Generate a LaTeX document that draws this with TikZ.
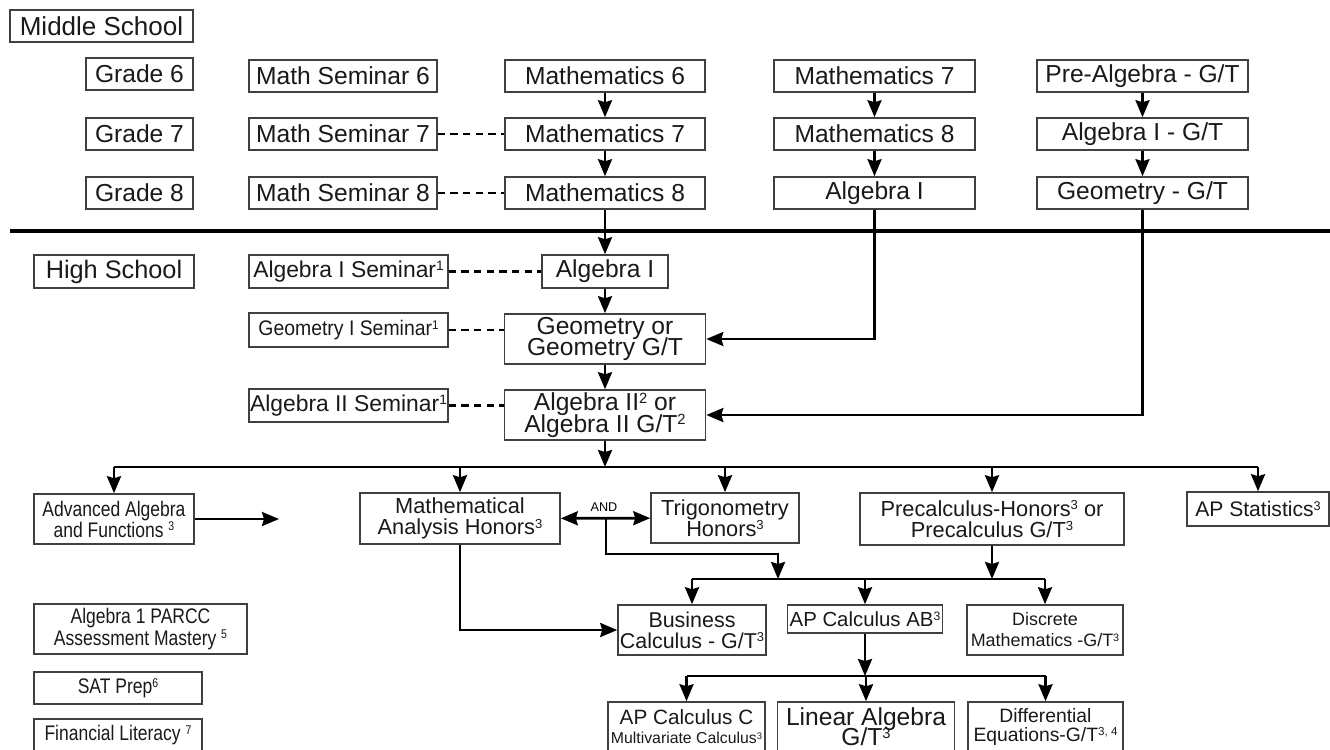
\documentclass[tikz,border=0pt]{standalone}
\usepackage{fontspec}
\setmainfont{Liberation Sans}
\newfontfamily\narrowfont[FakeStretch=0.83]{Liberation Sans}
\newfontfamily\semifont[FakeStretch=0.92]{Liberation Sans}
\usetikzlibrary{arrows.meta}
\lineskiplimit=-5pt
\newcommand\fn[1]{\raisebox{0.3em}{\scalebox{0.6}{#1}}}

\begin{document}
\begin{tikzpicture}[x=0.1mm,y=-0.1mm,
	box/.style={draw=black!75,line width=0.45pt,inner sep=0pt,align=center,text=black!90},
	upper/.style={font=\fontsize{7}{6.2}\selectfont},
	lower/.style={font=\fontsize{6.2}{6}\selectfont},
	narrow/.style={font=\narrowfont\fontsize{6}{6}\selectfont},
	flow/.style={line width=0.75pt,-{Stealth[length=1.7mm,width=1.4mm,inset=0.2mm]}},
	both/.style={line width=0.75pt,{Stealth[length=1.7mm,width=1.4mm,inset=0.2mm]}-{Stealth[length=1.7mm,width=1.4mm,inset=0.2mm]}},
	tie/.style={line width=0.75pt},
	semlink/.style={line width=0.6pt,dash pattern=on 2.1pt off 1.5pt}]
	\useasboundingbox (0,0) rectangle (1330,749);

	%middle school
	\node[box,minimum width=18.3mm,minimum height=3.2mm,font=\fontsize{7.4}{8}\selectfont] (ms) at (101.5,26) {Middle School};
	\node[box,upper,minimum width=10.7mm,minimum height=3.2mm] (g6) at (139.5,74) {Grade 6};
	\node[box,upper,minimum width=10.7mm,minimum height=3.2mm] (g7) at (139.5,134) {Grade 7};
	\node[box,upper,minimum width=10.7mm,minimum height=3.2mm] (g8) at (139.5,193) {Grade 8};
	\node[box,upper,minimum width=18.8mm,minimum height=3.2mm] (sem6) at (343,76) {Math Seminar 6};
	\node[box,upper,minimum width=18.8mm,minimum height=3.2mm] (sem7) at (343,134) {Math Seminar 7};
	\node[box,upper,minimum width=18.8mm,minimum height=3.2mm] (sem8) at (343,193) {Math Seminar 8};
	\node[box,upper,minimum width=20mm,minimum height=3.2mm] (m6) at (605,76) {Mathematics 6};
	\node[box,upper,minimum width=20mm,minimum height=3.2mm] (m7a) at (605,134) {Mathematics 7};
	\node[box,upper,minimum width=20mm,minimum height=3.2mm] (m8a) at (605,193) {Mathematics 8};
	\node[box,upper,minimum width=20.1mm,minimum height=3.2mm] (m7b) at (874.5,76) {Mathematics 7};
	\node[box,upper,minimum width=20.1mm,minimum height=3.2mm] (m8b) at (874.5,134) {Mathematics 8};
	\node[box,upper,minimum width=20.1mm,minimum height=3.2mm] (alg1b) at (874.5,193) {Algebra I};
	\node[box,upper,minimum width=21.1mm,minimum height=3.2mm] (pa) at (1142.5,76) {Pre-Algebra - G/T};
	\node[box,upper,minimum width=21.1mm,minimum height=3.2mm] (alggt) at (1142.5,134) {Algebra I - G/T};
	\node[box,upper,minimum width=21.1mm,minimum height=3.2mm] (geogt) at (1142.5,193) {Geometry - G/T};

	\draw[flow] (m6) -- (m7a);
	\draw[flow] (m7a) -- (m8a);
	\draw[flow] (m7b) -- (m8b);
	\draw[flow] (m8b) -- (alg1b);
	\draw[flow] (pa) -- (alggt);
	\draw[flow] (alggt) -- (geogt);
	\draw[semlink] (sem7) -- (m7a); %seminar 7
	\draw[semlink] (sem8) -- (m8a); %seminar 8

	\draw[line width=1.2pt] (10,231) -- (1330,231); %separator

	%high school
	\node[box,font=\fontsize{7.2}{8}\selectfont,minimum width=16mm,minimum height=3.3mm] (hs) at (114,271.5) {High School};
	\node[box,font=\fontsize{6.5}{6}\selectfont,minimum width=19.9mm,minimum height=3.3mm] (sem1) at (348.5,271.5) {Algebra I Seminar\fn{1}};
	\node[box,upper,minimum width=12.6mm,minimum height=3.3mm] (alg1) at (605,271.5) {Algebra I};
	\node[box,font=\semifont\fontsize{6}{6}\selectfont,minimum width=19.9mm,minimum height=3.4mm] (semg) at (348.5,330) {Geometry I Seminar\fn{1}};
	\node[box,upper,minimum width=20.1mm,minimum height=5mm] (geo) at (605,339) {Geometry or\\Geometry G/T};
	\node[box,font=\fontsize{6.5}{6}\selectfont,minimum width=19.9mm,minimum height=3.3mm] (sem2) at (348.5,405.5) {Algebra II Seminar\fn{1}};
	\node[box,upper,minimum width=20.1mm,minimum height=5mm] (alg2) at (605,415) {Algebra II\fn{2} or\\Algebra II G/T\fn{2}};

	\draw[flow] (m8a) -- (alg1);
	\draw[flow] (alg1) -- (geo);
	\draw[flow] (geo) -- (alg2);
	\draw[semlink] (sem1) -- (alg1);
	\draw[semlink] (semg.east) -- (semg.east -| geo.west);
	\draw[semlink] (sem2.east) -- (sem2.east -| alg2.west);
	\draw[flow] (alg1b.south) |- (geo.east); %from algebra I
	\draw[flow] (geogt.south) |- (alg2.east); %from geometry G/T

	%courses after algebra II
	\node[box,narrow,minimum width=16mm,minimum height=5mm] (adv) at (114,519) {Advanced Algebra\\and Functions \fn{3}};
	\node[box,lower,minimum width=20mm,minimum height=5.1mm] (mah) at (460,518.5) {Mathematical\\Analysis Honors\fn{3}};
	\node[box,lower,minimum width=14.8mm,minimum height=5mm] (trig) at (725,518) {Trigonometry\\Honors\fn{3}};
	\node[box,lower,minimum width=26.4mm,minimum height=5.2mm] (pre) at (992,519) {Precalculus-Honors\fn{3} or\\Precalculus G/T\fn{3}};
	\node[box,font=\fontsize{6}{6}\selectfont,minimum width=14.2mm,minimum height=3.4mm] (aps) at (1258,509) {AP Statistics\fn{3}};

	\coordinate (split) at (605,467);
	\draw[flow] (alg2) -- (split);
	\draw[tie] (adv.north |- split) -- (aps.north |- split);
	\foreach \n in {adv,mah,trig,pre,aps}
		\draw[flow] (\n.north |- split) -- (\n.north);
	\coordinate (advend) at (279,519);
	\draw[flow] (adv) -- (advend);

	\draw[both] (mah) -- (trig); %and
	\node[font=\fontsize{3.6}{4}\selectfont] (and) at (604,507) {AND};

	%calculus level
	\node[box,font=\fontsize{6.1}{6}\selectfont,minimum width=14.8mm,minimum height=5mm] (bus) at (692,630) {Business\\Calculus - G/T\fn{3}};
	\node[box,font=\fontsize{5.8}{6}\selectfont,minimum width=15.5mm,minimum height=2.8mm] (ab) at (865,619) {AP Calculus AB\fn{3}};
	\node[box,font=\fontsize{5.1}{6}\selectfont,minimum width=15.6mm,minimum height=5mm] (dis) at (1045,630) {Discrete\\Mathematics -G/T\fn{3}};

	\coordinate (andfork) at (606,519);
	\coordinate (andturn) at (606,554);
	\coordinate (calcjoin) at (778,579);
	\draw[flow] (andfork) -- (andturn) -| (calcjoin);
	\draw[flow] (pre.south) -- (pre.south |- calcjoin);
	\draw[tie] (bus.north |- calcjoin) -- (dis.north |- calcjoin);
	\foreach \n in {bus,ab,dis}
		\draw[flow] (\n.north |- calcjoin) -- (\n.north);
	\draw[flow] (mah.south) |- (bus.west);

	%after AP calculus AB
	\node[box,font=\fontsize{5.9}{5.4}\selectfont,minimum width=15.7mm,minimum height=5mm] (apc) at (686.5,727) {AP Calculus C\\{\fontsize{4.5}{5.4}\selectfont Multivariate Calculus\fn{3}}};
	\node[box,font=\fontsize{7}{5.6}\selectfont,minimum width=17.7mm,minimum height=5mm] (lin) at (866,727) {Linear Algebra\\G/T\fn{3}};
	\node[box,font=\fontsize{5.5}{5.4}\selectfont,minimum width=15.5mm,minimum height=5mm] (deq) at (1045.5,727) {Differential\\Equations-G/T\fn{3, 4}};

	\coordinate (topjoin) at (865,676);
	\draw[flow] (ab) -- (topjoin);
	\draw[tie] (apc.north |- topjoin) -- (deq.north |- topjoin);
	\foreach \n in {apc,lin,deq}
		\draw[flow] (\n.north |- topjoin) -- (\n.north);

	%electives
	\node[box,narrow,minimum width=21.3mm,minimum height=5mm] (parcc) at (140.5,629) {Algebra 1 PARCC\\Assessment Mastery \fn{5}};
	\node[box,narrow,minimum width=16.8mm,minimum height=3.2mm] (sat) at (118,688) {SAT Prep\fn{6}};
	\node[box,narrow,minimum width=16.8mm,minimum height=3.2mm] (fin) at (118,735) {Financial Literacy \fn{7}};
\end{tikzpicture}
\end{document}
